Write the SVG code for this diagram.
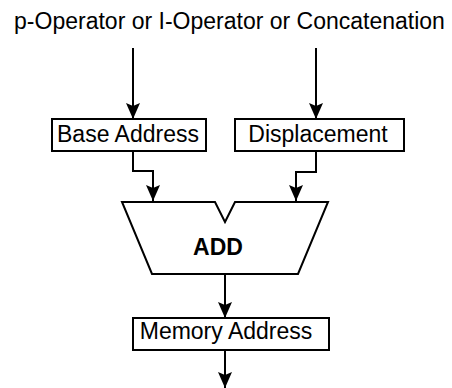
<svg xmlns="http://www.w3.org/2000/svg" width="452" height="388" viewBox="0 0 452 388">
  <style>
    .box { fill: #ffffff; stroke: #000000; stroke-width: 2; }
    .wire { fill: none; stroke: #000000; stroke-width: 2; marker-end: url(#arrow); }
    .label { font-family: "Liberation Sans", Arial, sans-serif; font-size: 23px; fill: #000000; text-anchor: middle; }
    .bold { font-weight: bold; }
  </style>
  <defs>
    <!-- filled arrowhead, tip at the end of the wire -->
    <marker id="arrow" markerUnits="userSpaceOnUse" markerWidth="18" markerHeight="16" viewBox="-17 -8 18 16" refX="0" refY="0" orient="auto">
      <path d="M0,0 L-16,-7 L-13,0 L-16,7 Z" fill="#000000"/>
    </marker>
  </defs>

  <rect width="452" height="388" fill="#ffffff"/>

  <text class="label" x="229.5" y="29">p-Operator or I-Operator or Concatenation</text>

  <g id="connectors">
    <path class="wire" d="M133,48 V119"/>
    <path class="wire" d="M316,48 V119"/>
    <path class="wire" d="M133,151 V171 H153 V201"/>
    <path class="wire" d="M316,151 V172 H296 V201"/>
    <path class="wire" d="M225,274 V318"/>
    <path class="wire" d="M225,350 V388"/>
  </g>

  <g id="base-address">
    <rect class="box" x="52" y="119" width="154" height="32"/>
    <text class="label" x="128" y="142">Base Address</text>
  </g>

  <g id="displacement">
    <rect class="box" x="235" y="119" width="169" height="32"/>
    <text class="label" x="318" y="142">Displacement</text>
  </g>

  <g id="add">
    <path class="box" d="M122,202 H215 L225,222 L235,202 H328 L298,274 H152 Z"/>
    <text class="label bold" x="218" y="255">ADD</text>
  </g>

  <g id="memory-address">
    <rect class="box" x="133" y="318" width="196" height="32"/>
    <text class="label" x="226" y="339">Memory Address</text>
  </g>
</svg>
